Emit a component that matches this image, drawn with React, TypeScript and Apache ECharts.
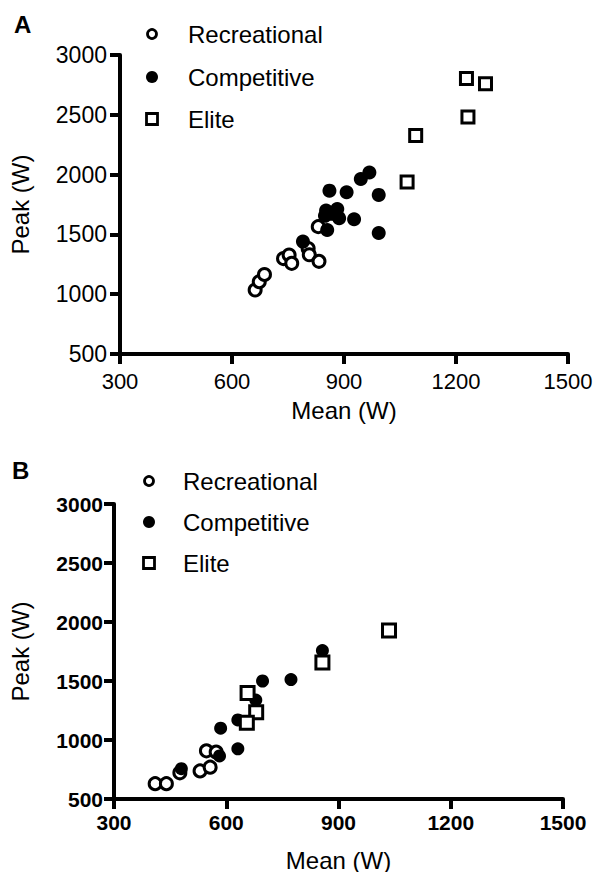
import React, { useEffect, useRef } from "react";
import * as echarts from "echarts";

const FONT = '"Liberation Sans", Arial, Helvetica, sans-serif';

// Tick values
const xTicks = [300, 600, 900, 1200, 1500];
const yTicks = [500, 1000, 1500, 2000, 2500, 3000];

// Legend / series names
const groups = ["Recreational", "Competitive", "Elite"];

// Panel A data
const recA_x = [662, 673, 687, 738, 753, 760, 804, 807, 831, 833];
const recA_y = [1035, 1105, 1165, 1298, 1328, 1258, 1382, 1330, 1565, 1275];
const compA_x = [790, 855, 861, 852, 849, 868, 882, 887, 907, 927, 945, 968, 993, 993];
const compA_y = [1440, 1537, 1866, 1700, 1655, 1672, 1712, 1636, 1852, 1627, 1963, 2018, 1830, 1512];
const eliteA_x = [1069, 1092, 1228, 1279, 1232];
const eliteA_y = [1938, 2326, 2803, 2760, 2482];

// Panel B data
const recB_x = [410, 440, 476, 530, 557, 547, 573];
const recB_y = [630, 630, 722, 738, 770, 908, 898];
const compB_x = [480, 582, 585, 631, 631, 679, 697, 773, 857];
const compB_y = [757, 865, 1100, 1170, 925, 1338, 1500, 1512, 1758];
const eliteB_x = [657, 680, 655, 857, 1035];
const eliteB_y = [1398, 1236, 1147, 1656, 1927];

const pairs = (xs: number[], ys: number[]) => xs.map((x, i) => [x, ys[i]]);

const AXIS_W = 4;

function makeX(gridIndex: number, bold: boolean, fontSize: number, margin: number, nameGap: number) {
  return {
    type: "value",
    gridIndex,
    min: xTicks[0],
    max: xTicks[xTicks.length - 1],
    interval: xTicks[1] - xTicks[0],
    name: "Mean (W)",
    nameLocation: "middle",
    nameGap,
    nameTextStyle: { fontFamily: FONT, fontSize: 24, color: "#000" },
    axisLine: { show: true, onZero: false, lineStyle: { color: "#000", width: AXIS_W } },
    axisTick: { show: true, inside: false, length: 10, lineStyle: { color: "#000", width: AXIS_W } },
    axisLabel: {
      show: true,
      margin,
      fontFamily: FONT,
      fontSize,
      fontWeight: bold ? "bold" : "normal",
      color: "#000",
      showMinLabel: true,
      showMaxLabel: true,
      formatter: (v: number) => String(v),
    },
    splitLine: { show: false },
  };
}

function makeY(gridIndex: number, bold: boolean, fontSize: number, margin: number, nameGap: number) {
  return {
    type: "value",
    gridIndex,
    min: yTicks[0],
    max: yTicks[yTicks.length - 1],
    interval: yTicks[1] - yTicks[0],
    name: "Peak (W)",
    nameLocation: "middle",
    nameGap,
    nameTextStyle: { fontFamily: FONT, fontSize: 24, color: "#000" },
    axisLine: { show: true, onZero: false, lineStyle: { color: "#000", width: AXIS_W } },
    axisTick: { show: true, inside: false, length: 10, lineStyle: { color: "#000", width: AXIS_W } },
    axisLabel: {
      show: true,
      margin,
      fontFamily: FONT,
      fontSize,
      fontWeight: bold ? "bold" : "normal",
      color: "#000",
      showMinLabel: true,
      showMaxLabel: true,
      formatter: (v: number) => String(v),
    },
    splitLine: { show: false },
  };
}

const openCircle = { color: "#fff", borderColor: "#000", borderWidth: 3, opacity: 1 };
const filled = { color: "#000", borderColor: "#000", borderWidth: 0, opacity: 1 };
const openSquare = { color: "#fff", borderColor: "#000", borderWidth: 3, opacity: 1 };

function makeSeries(idx: number, rec: number[][], comp: number[][], elite: number[][], sizes: number[]) {
  return [
    {
      type: "scatter",
      name: groups[0],
      xAxisIndex: idx,
      yAxisIndex: idx,
      symbol: "circle",
      symbolSize: sizes[0],
      itemStyle: openCircle,
      data: rec,
    },
    {
      type: "scatter",
      name: groups[1],
      xAxisIndex: idx,
      yAxisIndex: idx,
      symbol: "circle",
      symbolSize: sizes[1],
      itemStyle: filled,
      data: comp,
    },
    {
      type: "scatter",
      name: groups[2],
      xAxisIndex: idx,
      yAxisIndex: idx,
      symbol: "rect",
      symbolSize: sizes[2],
      itemStyle: openSquare,
      data: elite,
    },
  ];
}

function legendGraphic(cx: number, tx: number, ys: number[]) {
  const els: any[] = [];
  els.push({
    type: "circle",
    shape: { cx, cy: ys[0], r: 4.5 },
    style: { fill: "#fff", stroke: "#000", lineWidth: 2.8 },
  });
  els.push({
    type: "circle",
    shape: { cx, cy: ys[1], r: 6 },
    style: { fill: "#000" },
  });
  els.push({
    type: "rect",
    shape: { x: cx - 5.5, y: ys[2] - 5.5, width: 11, height: 11 },
    style: { fill: "#fff", stroke: "#000", lineWidth: 2.8 },
  });
  groups.forEach((g, i) => {
    els.push({
      type: "text",
      x: tx,
      y: ys[i],
      style: {
        text: g,
        fontFamily: FONT,
        fontSize: 24,
        fill: "#000",
        textAlign: "left",
        textVerticalAlign: "middle",
      },
    });
  });
  return els;
}

export default function App() {
  const ref = useRef<HTMLDivElement>(null);

  useEffect(() => {
    if (!ref.current) return;
    const chart = echarts.init(ref.current, null, { renderer: "svg", width: 595, height: 872 });
    const option: any = {
      animation: false,
      backgroundColor: "#fff",
      grid: [
        { left: 120, top: 55, width: 448, height: 299, containLabel: false, outerBoundsMode: "none" },
        { left: 114, top: 504, width: 449, height: 295, containLabel: false, outerBoundsMode: "none" },
      ],
      xAxis: [makeX(0, false, 22, 16, 44), makeX(1, true, 21, 13, 49)],
      yAxis: [makeY(0, false, 23, 13, 88), makeY(1, true, 21, 11, 82)],
      series: [
        ...makeSeries(0, pairs(recA_x, recA_y), pairs(compA_x, compA_y), pairs(eliteA_x, eliteA_y), [12, 14, 12]),
        ...makeSeries(1, pairs(recB_x, recB_y), pairs(compB_x, compB_y), pairs(eliteB_x, eliteB_y), [12, 13, 13]),
      ],
      graphic: [
        {
          type: "text",
          x: 14,
          y: 24,
          style: {
            text: "A",
            fontFamily: FONT,
            fontSize: 24,
            fontWeight: "bold",
            fill: "#000",
            textAlign: "left",
            textVerticalAlign: "middle",
          },
        },
        {
          type: "text",
          x: 12,
          y: 470,
          style: {
            text: "B",
            fontFamily: FONT,
            fontSize: 24,
            fontWeight: "bold",
            fill: "#000",
            textAlign: "left",
            textVerticalAlign: "middle",
          },
        },
        ...legendGraphic(152, 188, [34, 77, 119]),
        ...legendGraphic(149, 183, [481, 522, 563]),
      ],
    };
    chart.setOption(option);
    return () => chart.dispose();
  }, []);

  return (
    <div
      ref={ref}
      style={{ position: "fixed", left: 0, top: 0, width: 595, height: 872, background: "#fff" }}
    />
  );
}
